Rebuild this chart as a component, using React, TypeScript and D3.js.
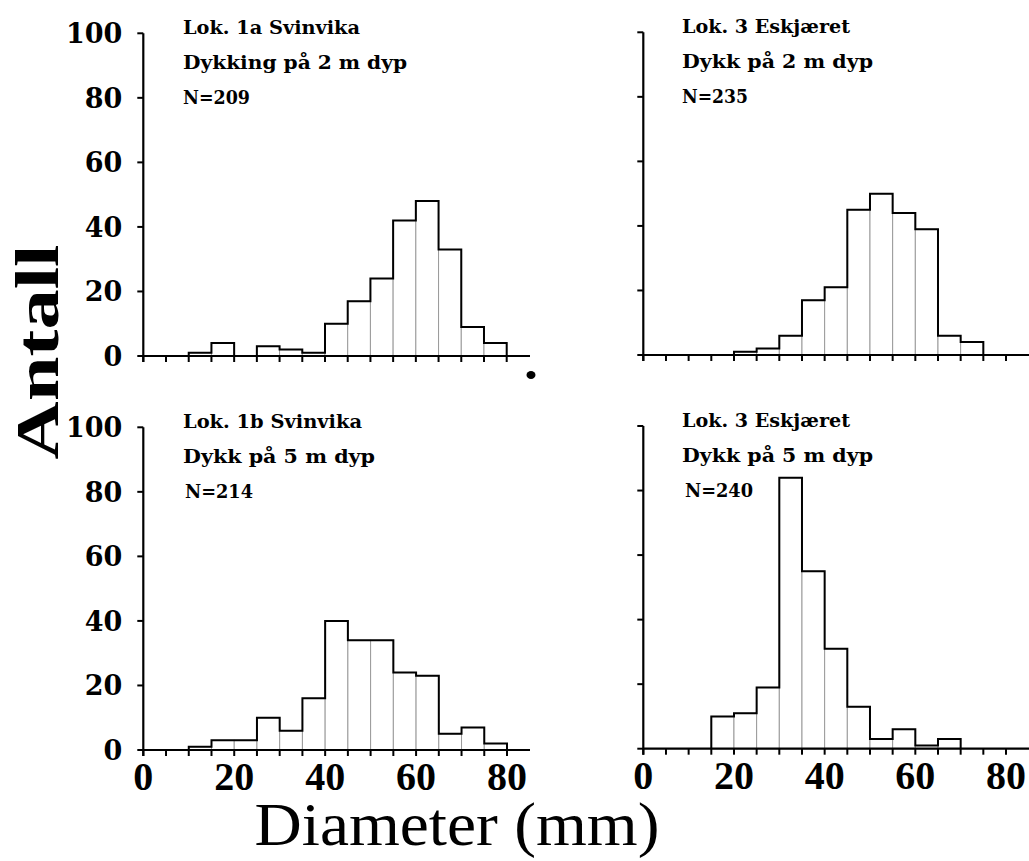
import React from 'react';
import * as d3 from 'd3';

// ---- data (counts per 5 mm diameter class) ----
const binWidth = 5;

const lok1aStart = 10;
const lok1aCounts = [1, 4, 0, 3, 2, 1, 10, 17, 24, 42, 48, 33, 9, 4];
const lok1aTitle = ['Lok. 1a Svinvika', 'Dykking på 2 m dyp', 'N=209'];

const lok3TopStart = 20;
const lok3TopCounts = [1, 2, 6, 17, 21, 45, 50, 44, 39, 6, 4];
const lok3TopTitle = ['Lok. 3 Eskjæret', 'Dykk på 2 m dyp', 'N=235'];

const lok1bStart = 10;
const lok1bCounts = [1, 3, 3, 10, 6, 16, 40, 34, 34, 24, 23, 5, 7, 2];
const lok1bTitle = ['Lok. 1b Svinvika', 'Dykk på 5 m dyp', 'N=214'];

const lok3BotStart = 15;
const lok3BotCounts = [10, 11, 19, 84, 55, 31, 13, 3, 6, 1, 3];
const lok3BotTitle = ['Lok. 3 Eskjæret', 'Dykk på 5 m dyp', 'N=240'];

const yTickValues = [0, 20, 40, 60, 80, 100];
const xTickLabelValues = [0, 20, 40, 60, 80];
const xMinorTickValues = d3.range(0, 81, 5);

const yAxisTitle = 'Antall';
const xAxisTitle = 'Diameter (mm)';

// ---- layout ----
type Panel = {
  start: number;
  counts: number[];
  title: string[];
  x0: number;
  x80: number;
  y0: number;
  y100: number;
  axisEnd: number;
  showYLabels: boolean;
  showXLabels: boolean;
  titleX: number[];
  titleLen: number[];
};

const panels: Panel[] = [
  {
    start: lok1aStart, counts: lok1aCounts, title: lok1aTitle,
    x0: 143.3, x80: 506.7, y0: 356, y100: 33.3, axisEnd: 530,
    showYLabels: true, showXLabels: false,
    titleX: [183, 183, 183], titleLen: [177, 224, 67],
  },
  {
    start: lok3TopStart, counts: lok3TopCounts, title: lok3TopTitle,
    x0: 643.3, x80: 1006, y0: 355, y100: 32.3, axisEnd: 1029,
    showYLabels: false, showXLabels: false,
    titleX: [682, 682, 682], titleLen: [168, 191, 66],
  },
  {
    start: lok1bStart, counts: lok1bCounts, title: lok1bTitle,
    x0: 143.3, x80: 507, y0: 750, y100: 427.3, axisEnd: 530,
    showYLabels: true, showXLabels: true,
    titleX: [183, 183, 185], titleLen: [179, 192, 68],
  },
  {
    start: lok3BotStart, counts: lok3BotCounts, title: lok3BotTitle,
    x0: 643.3, x80: 1006, y0: 748.7, y100: 426, axisEnd: 1029,
    showYLabels: false, showXLabels: true,
    titleX: [682, 682, 685], titleLen: [168, 191, 68],
  },
];

const serif = '"Liberation Serif", "DejaVu Serif", serif';
const wideSerif = '"DejaVu Serif", "Liberation Serif", serif';

function HistPanel({ p }: { p: Panel }) {
  const x = d3.scaleLinear().domain([0, 80]).range([p.x0, p.x80]);
  const y = d3.scaleLinear().domain([0, 100]).range([p.y0, p.y100]);
  const bins = p.counts.map((c, i) => ({
    x0: p.start + i * binWidth,
    x1: p.start + (i + 1) * binWidth,
    c,
  }));
  const pts: [number, number][] = [];
  bins.forEach((b, i) => {
    if (i === 0) pts.push([x(b.x0), y(0)]);
    pts.push([x(b.x0), y(b.c)]);
    pts.push([x(b.x1), y(b.c)]);
    if (i === bins.length - 1) pts.push([x(b.x1), y(0)]);
  });
  const outline = d3.line()(pts) || '';
  const titleOffsets = [1, 36, 71];
  return (
    <g>
      {bins.map((b, i) => (
        <rect
          key={i}
          x={x(b.x0)}
          y={y(b.c)}
          width={x(b.x1) - x(b.x0)}
          height={y(0) - y(b.c)}
          fill="#fff"
          stroke="#9a9a9a"
          strokeWidth={1}
        />
      ))}
      <path d={outline} fill="none" stroke="#000" strokeWidth={2} strokeLinejoin="miter" />
      <line x1={x(0)} x2={p.axisEnd} y1={y(0)} y2={y(0)} stroke="#000" strokeWidth={2.2} />
      {xMinorTickValues.map((v) => (
        <line key={v} x1={x(v)} x2={x(v)} y1={y(0)} y2={y(0) + 6} stroke="#000" strokeWidth={2} />
      ))}
      <line x1={x(0)} x2={x(0)} y1={y(100)} y2={y(0) + 6} stroke="#000" strokeWidth={2.2} />
      {yTickValues.map((v) => (
        <line key={v} x1={x(0) - 6} x2={x(0)} y1={y(v)} y2={y(v)} stroke="#000" strokeWidth={2} />
      ))}
      {p.showYLabels &&
        yTickValues.map((v) => (
          <text
            key={v}
            x={x(0) - 21}
            y={y(v)}
            dy="0.36em"
            textAnchor="end"
            fontFamily={wideSerif}
            fontWeight="bold"
            fontSize={27}
          >
            {v}
          </text>
        ))}
      {p.showXLabels &&
        xTickLabelValues.map((v) => (
          <text
            key={v}
            x={x(v)}
            y={y(0) + 40}
            textAnchor="middle"
            fontFamily={serif}
            fontWeight="bold"
            fontSize={40}
          >
            {v}
          </text>
        ))}
      {p.title.map((t, i) => (
        <text
          key={i}
          x={p.titleX[i]}
          y={y(100) + titleOffsets[i]}
          fontFamily={wideSerif}
          fontWeight="bold"
          fontSize={18}
          textLength={p.titleLen[i]}
          lengthAdjust="spacingAndGlyphs"
        >
          {t}
        </text>
      ))}
    </g>
  );
}

export default function App() {
  return (
    <svg
      width={1029}
      height={861}
      style={{ position: 'absolute', left: 0, top: 0, background: '#fff' }}
    >
      <rect x={0} y={0} width={1029} height={861} fill="#fff" />
      {panels.map((p, i) => (
        <HistPanel key={i} p={p} />
      ))}
      <text
        transform="translate(58,352) rotate(-90)"
        textAnchor="middle"
        fontFamily={serif}
        fontWeight="bold"
        fontSize={62}
        textLength={215}
        lengthAdjust="spacingAndGlyphs"
      >
        {yAxisTitle}
      </text>
      <text
        x={457}
        y={845}
        textAnchor="middle"
        fontFamily={serif}
        fontSize={62}
        textLength={405}
        lengthAdjust="spacingAndGlyphs"
      >
        {xAxisTitle}
      </text>
      <ellipse cx={531} cy={375} rx={4.5} ry={4} fill="#000" />
    </svg>
  );
}
